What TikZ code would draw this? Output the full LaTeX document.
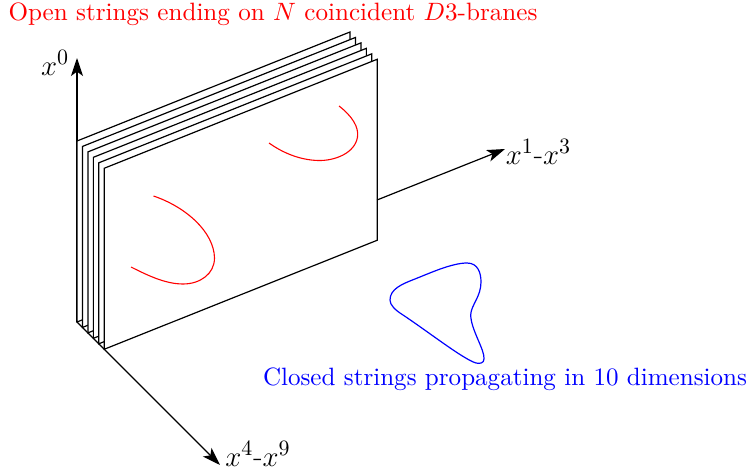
\documentclass[tikz,border=0pt]{standalone}
\usetikzlibrary{arrows.meta, calc}
\tikzset{
  axisline/.style={-{Stealth[length=9pt, width=6pt, inset=2.2pt]}, line width=0.6pt, draw=black},
  plane/.style={draw=black, fill=white, line width=0.6pt, line join=miter},
  axislabel/.style={font=\fontsize{15.2}{18}\selectfont, text=black, inner sep=0pt},
  openstring/.style={draw=red, line width=0.55pt},
  closedstring/.style={draw=blue, line width=0.6pt},
  redtext/.style={scale=1.255, text=red, inner sep=0pt},
  bluetext/.style={scale=1.253, text=blue, inner sep=0pt},
}

\begin{document}
\begin{tikzpicture}[x=0.5pt, y=-0.5pt]
    \useasboundingbox (0,0) rectangle (750,470);
    \coordinate (origin) at (77,322);
    \coordinate (zerotip) at (77,58);
    \coordinate (ninetip) at (220,465);
    \coordinate (threestart) at (377,200);
    \coordinate (threetip) at (505,149);
    % axes
    \draw[axisline] (origin) -- (zerotip);
    \draw[axisline] (origin) -- (ninetip);
    % stack of branes
    \foreach \i in {0,...,5} {
      \draw[plane] ($(77,322)+(5.45*\i,5.45*\i)$) -- ++(0,-181) -- ++(273,-109) -- ++(0,181) -- cycle;
    }
    \draw[axisline] (threestart) -- (threetip);
    % open strings
    \draw[openstring] (339,106) .. controls (352,116) and (359,127) .. (357.5,137)
      .. controls (355,153) and (335,161) .. (318,160.5)
      .. controls (300,160) and (283,153) .. (269,143);
    \draw[openstring] (153.5,196) .. controls (186,207) and (214,232) .. (214.5,258)
      .. controls (214.5,274) and (200,284) .. (183,284)
      .. controls (165,284) and (147,275) .. (131,267);
    % closed string
    \draw[closedstring] (390,300) .. controls (390,289) and (402,284) .. (415,279)
      .. controls (430,273) and (452,263) .. (467,263)
      .. controls (478,263) and (481,273) .. (481,282)
      .. controls (481,297) and (471,305) .. (470.7,315)
      .. controls (471,330) and (485,350) .. (484,359)
      .. controls (484,363) and (480,364) .. (476,363)
      .. controls (463,359) and (430,333) .. (403,315)
      .. controls (395,310) and (390,305) .. (390,300) -- cycle;
    % labels
    \node[axislabel] (zerolabel) at (55,63) {$x^0$};
    \node[axislabel] (threelabel) at (538.5,152) {$x^1$-$x^3$};
    \node[axislabel] (ninelabel) at (258,454) {$x^4$-$x^9$};
    \node[redtext] (opentext) at (273,14) {Open strings ending on $N$ coincident $D3$-branes};
    \node[bluetext] (closedtext) at (505,379) {Closed strings propagating in 10 dimensions};
\end{tikzpicture}
\end{document}
